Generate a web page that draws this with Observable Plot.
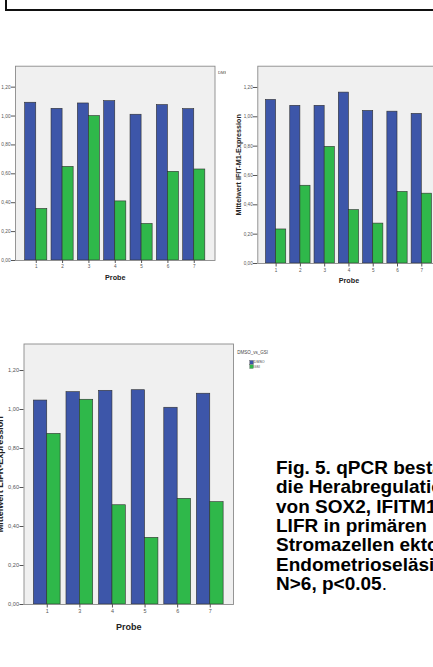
<!DOCTYPE html>
<html><head><meta charset="utf-8">
<script src="https://cdn.jsdelivr.net/npm/d3@7"></script>
<script src="https://cdn.jsdelivr.net/npm/@observablehq/plot@0.6"></script>
<style>
html,body{margin:0;padding:0;width:433px;height:667px;overflow:hidden;background:#fff;font-family:"Liberation Sans",Arial,sans-serif;}
#root{position:relative;width:433px;height:667px;overflow:hidden;}
.abs{position:absolute;}
.abs svg{max-width:none !important;display:block;}
#cap{left:276px;top:458px;font-size:19px;font-weight:bold;line-height:19.33px;white-space:nowrap;color:#000;}
</style></head><body>
<div id="root">
  <div class="abs" style="left:5px;top:9px;width:428px;height:1.5px;background:#111"></div>
  <div class="abs" style="left:5px;top:0;width:1.5px;height:10px;background:#111"></div>
  <div id="c1" class="abs" style="left:-30px;top:60px;width:256px;z-index:1"></div>
  <div id="c2" class="abs" style="left:226px;top:60px;width:214px;z-index:2;background:#fff"></div>
  <div id="c3" class="abs" style="left:-30px;top:330px;width:263px;z-index:1"></div>
  <div id="leg3" class="abs" style="left:230px;top:340px;z-index:3"></div>
  <div id="cap" class="abs"></div>
</div>
<script>
// ---- data ----
const seriesNames = ["DMSO", "GSI"];
const seriesColors = ["#3d56a9", "#2fb84a"];
const legendTitle = "DMSO_vs_GSI";
const xTitle = "Probe";
const yTickValues = [0, 0.2, 0.4, 0.6, 0.8, 1.0, 1.2];
const yTickLabels = ["0,00", "0,20", "0,40", "0,60", "0,80", "1,00", "1,20"];

const probes1 = ["1", "2", "3", "4", "5", "6", "7"];
const dmso1 = [1.092, 1.050, 1.087, 1.103, 1.009, 1.076, 1.048];
const gsi1 = [0.357, 0.648, 1.000, 0.409, 0.253, 0.614, 0.630];
const yTitle1 = "Mittelwert SOX2-Expression";

const probes2 = ["1", "2", "3", "4", "5", "6", "7"];
const dmso2 = [1.115, 1.075, 1.075, 1.165, 1.040, 1.035, 1.020];
const gsi2 = [0.232, 0.530, 0.795, 0.364, 0.272, 0.488, 0.476];
const yTitle2 = "Mittelwert IFIT-M1-Expression";

const probes3 = ["1", "3", "4", "5", "6", "7"];
const dmso3 = [1.046, 1.089, 1.096, 1.099, 1.009, 1.081];
const gsi3 = [0.875, 1.050, 0.509, 0.342, 0.542, 0.525];
const yTitle3 = "Mittelwert LIFR-Expression";

const captionLines = [
  "Fig. 5. qPCR bestätigt",
  "die Herabregulation",
  "von SOX2, IFITM1 und",
  "LIFR in primären",
  "Stromazellen ektoper",
  "Endometrioseläsionen.",
  "N>6, p<0.05"
];

// ---- drawing ----
const FONT = "Liberation Sans, Arial, sans-serif";
function chart(c) {
  const rows = c.probes.map((p, i) => ({probe: p, dmso: c.dmso[i], gsi: c.gsi[i]}));
  const W = c.width - c.ml - c.mr;
  const step = W / (c.probes.length - c.pi + 2 * c.po);
  const half = step * (1 - c.pi) / 2;
  const marks = [
    Plot.frame({fill: "#f0f0f0", stroke: null}),
    Plot.barY(rows, {x: "probe", y: "dmso", insetLeft: 0, insetRight: half, fill: seriesColors[0], stroke: "#2f2f2f", strokeWidth: 0.6}),
    Plot.barY(rows, {x: "probe", y: "gsi", insetLeft: half, insetRight: 0, fill: seriesColors[1], stroke: "#2f2f2f", strokeWidth: 0.6}),
    Plot.frame({stroke: "#8a8a8a", fill: null, strokeWidth: 0.9}),
    Plot.axisY({ticks: yTickValues, tickFormat: d => yTickLabels[yTickValues.indexOf(d)], tickSize: c.yts, tickPadding: c.ytp, fontSize: c.yfs, color: "#555", label: null}),
    Plot.axisX({tickSize: c.xts, tickPadding: c.xtp, fontSize: c.xfs, color: "#555", label: null}),
    Plot.text([xTitle], {text: d => d, frameAnchor: "bottom", dy: c.xTitleDy, fontWeight: "bold", fontSize: c.tfs, fill: "#222", lineAnchor: "middle"}),
    Plot.text([c.yTitle], {text: d => d, frameAnchor: "left", rotate: -90, dx: c.yTitleDx, fontWeight: "bold", fontSize: c.tfs, fill: "#222", lineAnchor: "bottom", textAnchor: "middle"})
  ];
  if (c.legendText) {
    marks.push(Plot.text([legendTitle], {text: d => d, frameAnchor: "top-right", textAnchor: "start", lineAnchor: "middle", dx: 3, dy: 6.5, fontSize: c.legendFs, fill: "#444"}));
  }
  return Plot.plot({
    width: c.width, height: c.height,
    marginLeft: c.ml, marginRight: c.mr, marginTop: c.mt, marginBottom: c.mb,
    style: {background: c.bg || "transparent", fontFamily: FONT, overflow: "visible", maxWidth: "none"},
    x: {type: "band", domain: c.probes, paddingInner: c.pi, paddingOuter: c.po, round: false},
    y: {domain: [0, c.ymax]},
    marks
  });
}

document.getElementById("c1").appendChild(chart({
  probes: probes1, dmso: dmso1, gsi: gsi1, yTitle: yTitle1,
  width: 256, height: 225, ml: 45, mr: 11.5, mt: 5.7, mb: 25,
  pi: 0.16, po: 0.368, ymax: 1.345,
  yts: 4, ytp: 0.8, yfs: 4.8, xts: 3, xtp: 0.8, xfs: 4.6,
  tfs: 7.2, xTitleDy: 17, yTitleDx: -24,
  legendText: true, legendFs: 4.2
}));

document.getElementById("c2").appendChild(chart({
  probes: probes2, dmso: dmso2, gsi: gsi2, yTitle: yTitle2,
  width: 214, height: 225, ml: 31.3, mr: 0.4, mt: 5.7, mb: 22,
  pi: 0.165, po: 0.337, ymax: 1.345, bg: "#fff",
  yts: 4.3, ytp: 0.8, yfs: 4.6, xts: 3.5, xtp: 1.5, xfs: 4.6,
  tfs: 7.2, xTitleDy: 17, yTitleDx: -17.3
}));

document.getElementById("c3").appendChild(chart({
  probes: probes3, dmso: dmso3, gsi: gsi3, yTitle: yTitle3,
  width: 263, height: 304, ml: 53.5, mr: 0, mt: 13.5, mb: 30,
  pi: 0.18, po: 0.303, ymax: 1.336,
  yts: 4, ytp: 1, yfs: 5.6, xts: 3.5, xtp: 1, xfs: 5.4,
  tfs: 9, xTitleDy: 22.7, yTitleDx: -21.5
}));

// legend for the LIFR chart
const leg = d3.select("#leg3").append("svg").attr("width", 60).attr("height", 35).style("font-family", FONT);
leg.append("text").attr("x", 7.3).attr("y", 12.6).attr("dominant-baseline", "middle").attr("font-size", 4.5).attr("fill", "#444").text(legendTitle);
seriesNames.forEach((s, i) => {
  leg.append("rect").attr("x", 19.8).attr("y", 20.5 + i * 4.3).attr("width", 3.6).attr("height", 3.6)
    .attr("fill", seriesColors[i]).attr("stroke", "#333").attr("stroke-width", 0.3);
  leg.append("text").attr("x", 23.8).attr("y", 22.4 + i * 4.3).attr("dominant-baseline", "middle")
    .attr("font-size", 3.6).attr("fill", "#444").text(s);
});

// caption
const cap = document.getElementById("cap");
captionLines.forEach((t, i) => {
  const div = document.createElement("div");
  div.textContent = t;
  if (i === captionLines.length - 1) {
    const dot = document.createElement("span");
    dot.style.fontWeight = "normal";
    dot.textContent = ".";
    div.appendChild(dot);
  }
  cap.appendChild(div);
});
</script>
</body></html>
